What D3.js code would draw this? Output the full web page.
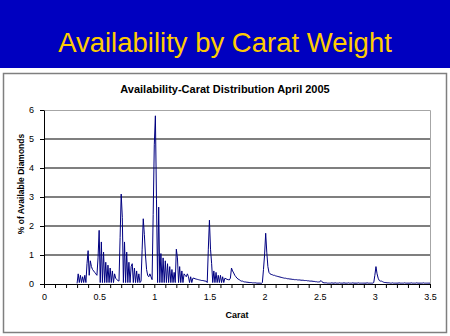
<!DOCTYPE html>
<html>
<head>
<meta charset="utf-8">
<script src="https://cdn.jsdelivr.net/npm/d3@7"></script>
<style>
  html, body { margin: 0; padding: 0; background: #ffffff; }
  svg { display: block; font-family: Arial, "Liberation Sans", sans-serif; }
</style>
</head>
<body>
<svg id="chart" width="450" height="336"></svg>
<script>
// ---------- data ----------
const slideTitle = "Availability by Carat Weight";
const chartTitle = "Availability-Carat Distribution April 2005";
const xAxisTitle = "Carat";
const yAxisTitle = "% of Available Diamonds";
const xTickValues = [0, 0.5, 1, 1.5, 2, 2.5, 3, 3.5];
const xTickLabels = ["0", "0.5", "1", "1.5", "2", "2.5", "3", "3.5"];
const yTickValues = [0, 1, 2, 3, 4, 5, 6];
const yTickLabels = ["0", "1", "2", "3", "4", "5", "6"];
const caratStart = 0.30;   // first carat weight in the series
const caratStep = 0.01;    // carat step between readings
// % of available diamonds, one value per 0.01 carat from 0.30 to 3.50
const pct = [
  // 0.30 - 0.39
  0.02, 0.35, 0.05, 0.30, 0.05, 0.25, 0.05, 0.30, 0.05, 0.70,
  // 0.40 - 0.49
  1.15, 0.30, 0.80, 0.60, 0.50, 0.45, 0.40, 0.35, 0.30, 0.90,
  // 0.50 - 0.59
  1.85, 0.05, 1.45, 0.05, 1.10, 0.05, 0.75, 0.05, 0.65, 0.05,
  // 0.60 - 0.69
  0.55, 0.05, 0.45, 0.05, 0.35, 0.20, 0.15, 0.12, 0.10, 1.60,
  // 0.70 - 0.79
  3.10, 2.30, 0.05, 1.45, 0.05, 1.10, 0.05, 0.75, 0.05, 0.60,
  // 0.80 - 0.89
  0.70, 0.05, 0.55, 0.05, 0.45, 0.05, 0.35, 0.05, 0.10, 1.20,
  // 0.90 - 0.99
  2.25, 1.70, 1.00, 0.50, 0.30, 0.25, 0.35, 0.25, 0.15, 2.40,
  // 1.00 - 1.09
  4.80, 5.80, 2.90, 0.05, 2.65, 0.05, 1.05, 0.05, 0.90, 0.05,
  // 1.10 - 1.19
  0.80, 0.05, 0.70, 0.05, 0.60, 0.05, 0.50, 0.05, 0.40, 0.05,
  // 1.20 - 1.29
  1.20, 0.90, 0.05, 0.60, 0.05, 0.45, 0.05, 0.35, 0.30, 0.25,
  // 1.30 - 1.39
  0.35, 0.25, 0.05, 0.25, 0.05, 0.20, 0.20, 0.18, 0.17, 0.16,
  // 1.40 - 1.49
  0.15, 0.14, 0.13, 0.12, 0.12, 0.11, 0.10, 0.10, 0.05, 1.20,
  // 1.50 - 1.59
  2.20, 1.20, 0.70, 0.05, 0.45, 0.05, 0.40, 0.05, 0.30, 0.05,
  // 1.60 - 1.69
  0.30, 0.05, 0.25, 0.05, 0.20, 0.18, 0.16, 0.15, 0.14, 0.20,
  // 1.70 - 1.79
  0.55, 0.45, 0.38, 0.30, 0.25, 0.20, 0.17, 0.15, 0.12, 0.10,
  // 1.80 - 1.89
  0.10, 0.08, 0.07, 0.07, 0.06, 0.06, 0.05, 0.05, 0.05, 0.04,
  // 1.90 - 1.99
  0.04, 0.04, 0.04, 0.03, 0.03, 0.03, 0.03, 0.02, 0.05, 0.50,
  // 2.00 - 2.09
  1.00, 1.75, 1.10, 0.60, 0.40, 0.35, 0.33, 0.32, 0.30, 0.30,
  // 2.10 - 2.19
  0.28, 0.27, 0.26, 0.25, 0.24, 0.23, 0.22, 0.21, 0.20, 0.20,
  // 2.20 - 2.29
  0.19, 0.18, 0.18, 0.17, 0.17, 0.16, 0.16, 0.15, 0.15, 0.15,
  // 2.30 - 2.39
  0.14, 0.14, 0.14, 0.13, 0.13, 0.13, 0.12, 0.12, 0.12, 0.11,
  // 2.40 - 2.49
  0.11, 0.10, 0.10, 0.10, 0.09, 0.09, 0.08, 0.08, 0.07, 0.07,
  // 2.50 - 2.59
  0.07, 0.12, 0.08, 0.05, 0.04, 0.04, 0.04, 0.03, 0.03, 0.03,
  // 2.60 - 2.69
  0.03, 0.04, 0.03, 0.03, 0.04, 0.03, 0.03, 0.03, 0.04, 0.03,
  // 2.70 - 2.79
  0.03, 0.03, 0.04, 0.03, 0.03, 0.03, 0.04, 0.03, 0.03, 0.03,
  // 2.80 - 2.89
  0.04, 0.03, 0.03, 0.03, 0.03, 0.04, 0.03, 0.03, 0.03, 0.03,
  // 2.90 - 2.99
  0.03, 0.03, 0.03, 0.04, 0.03, 0.03, 0.03, 0.03, 0.03, 0.05,
  // 3.00 - 3.09
  0.30, 0.60, 0.35, 0.20, 0.12, 0.10, 0.10, 0.08, 0.06, 0.05,
  // 3.10 - 3.19
  0.05, 0.04, 0.04, 0.04, 0.03, 0.03, 0.04, 0.03, 0.03, 0.03,
  // 3.20 - 3.29
  0.03, 0.03, 0.04, 0.03, 0.03, 0.03, 0.03, 0.04, 0.03, 0.03,
  // 3.30 - 3.39
  0.03, 0.03, 0.03, 0.04, 0.03, 0.03, 0.03, 0.03, 0.04, 0.03,
  // 3.40 - 3.49
  0.03, 0.03, 0.03, 0.03, 0.04, 0.03, 0.03, 0.03, 0.03, 0.03,
  // 3.50
  0.03
];

// ---------- drawing ----------
const svg = d3.select("#chart");

// slide header
svg.append("rect").attr("x", 0).attr("y", 0).attr("width", 450).attr("height", 68)
  .attr("fill", "#0000C0");
svg.append("text").attr("x", 225).attr("y", 52).attr("text-anchor", "middle")
  .attr("font-size", "27.5px").attr("fill", "#FFCC00").text(slideTitle);

// chart panel
svg.append("rect").attr("x", 3.5).attr("y", 73.5).attr("width", 443).attr("height", 259)
  .attr("fill", "#ffffff").attr("stroke", "#7f7f7f").attr("stroke-width", 1.5);

const x = d3.scaleLinear().domain([0, 3.5]).range([44, 430]);
const y = d3.scaleLinear().domain([0, 6]).range([284, 110]);

// chart title
svg.append("text").attr("x", 225).attr("y", 92.5).attr("text-anchor", "middle")
  .attr("font-size", "11px").attr("font-weight", "bold").attr("fill", "#000")
  .text(chartTitle);

// plot area border (top & right)
svg.append("path")
  .attr("d", `M${x(0)},${y(6) + 0.5}H${x(3.5) + 0.5}V${y(0)}`)
  .attr("fill", "none").attr("stroke", "#a6a6a6").attr("stroke-width", 1);

// gridlines
svg.append("g").selectAll("line")
  .data(yTickValues.filter(v => v > 0 && v < 6))
  .join("line")
  .attr("x1", x(0)).attr("x2", x(3.5))
  .attr("y1", d => y(d)).attr("y2", d => y(d))
  .attr("stroke", "#555").attr("stroke-width", 1.5);

// data line
const series = pct.map((v, i) => ({ c: caratStart + i * caratStep, v }));
svg.append("path")
  .datum(series)
  .attr("fill", "none")
  .attr("stroke", "#000080")
  .attr("stroke-width", 1)
  .attr("stroke-linejoin", "miter")
  .attr("d", d3.line().x(d => x(d.c)).y(d => y(d.v)));

// y axis
const yAxis = d3.axisLeft(y)
  .tickValues(yTickValues)
  .tickFormat((d, i) => yTickLabels[i])
  .tickSize(4).tickSizeOuter(0).tickPadding(6);
const gy = svg.append("g").attr("transform", `translate(${x(0)},0)`).call(yAxis);
gy.selectAll("text").attr("font-size", "9px").attr("font-family", "Arial, 'Liberation Sans', sans-serif");
gy.select(".domain").attr("stroke", "#000");

// x axis: minor ticks every 0.1 with labels at 0.5 steps
const xMinor = d3.range(0, 36).map(i => i / 10);
const xAxis = d3.axisBottom(x)
  .tickValues(xMinor)
  .tickFormat(d => {
    const k = xTickValues.findIndex(t => Math.abs(t - d) < 1e-6);
    return k >= 0 ? xTickLabels[k] : "";
  })
  .tickSize(4).tickSizeOuter(0).tickPadding(6);
const gx = svg.append("g").attr("transform", `translate(0,${y(0)})`).call(xAxis);
gx.selectAll("text").attr("font-size", "9px").attr("font-family", "Arial, 'Liberation Sans', sans-serif");
gx.select(".domain").attr("stroke", "#000");

// axis titles
svg.append("text").attr("x", 237).attr("y", 318).attr("text-anchor", "middle")
  .attr("font-size", "9px").attr("font-weight", "bold").text(xAxisTitle);
svg.append("text")
  .attr("transform", "translate(24,184) rotate(-90)")
  .attr("text-anchor", "middle")
  .attr("font-size", "8.5px").attr("font-weight", "bold").text(yAxisTitle);
</script>
</body>
</html>
